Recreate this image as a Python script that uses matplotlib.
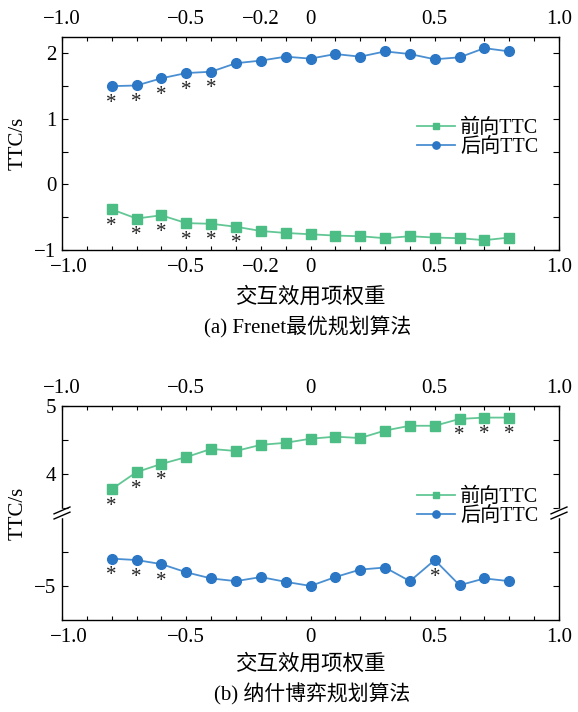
import numpy as np
import matplotlib.pyplot as plt
from matplotlib.ticker import FixedLocator
from matplotlib.transforms import ScaledTranslation

plt.rcParams['font.family'] = ['Liberation Serif', 'Noto Sans CJK SC']
plt.rcParams['axes.unicode_minus'] = True

# weights of the interaction utility term
weights = [-0.8, -0.7, -0.6, -0.5, -0.4, -0.3, -0.2, -0.1, 0.0,
           0.1, 0.2, 0.3, 0.4, 0.5, 0.6, 0.7, 0.8]

# (a) Frenet
frenet_front = [-0.38, -0.52, -0.47, -0.59, -0.60, -0.645, -0.71, -0.74, -0.76,
                -0.78, -0.79, -0.82, -0.79, -0.81, -0.82, -0.85, -0.81]
frenet_rear = [1.50, 1.51, 1.62, 1.70, 1.72, 1.85, 1.89, 1.95, 1.92,
               1.99, 1.95, 2.03, 1.99, 1.91, 1.94, 2.08, 2.03]
frenet_front_sig = [-0.8, -0.7, -0.6, -0.5, -0.4, -0.3]
frenet_rear_sig = [-0.8, -0.7, -0.6, -0.5, -0.4]

# (b) Nash game
nash_front = [3.78, 4.03, 4.15, 4.25, 4.37, 4.34, 4.43, 4.46, 4.52,
              4.55, 4.53, 4.64, 4.71, 4.71, 4.81, 4.83, 4.83]
nash_rear = [-4.60, -4.62, -4.68, -4.80, -4.89, -4.93, -4.87, -4.94, -5.00,
             -4.87, -4.76, -4.73, -4.93, -4.62, -4.99, -4.89, -4.93]
nash_front_sig = [-0.8, -0.7, -0.6, 0.6, 0.7, 0.8]
nash_rear_sig = [-0.8, -0.7, -0.6, 0.5]

green = '#4dbd86'
blue = '#2b77c5'
green_line = '#62c795'
blue_line = '#4a8fd2'

fig = plt.figure(figsize=(5.78, 7.12), dpi=100)
ax1 = fig.add_axes([62/578, 1-250/712, 497/578, 213/712])
ax2 = fig.add_axes([62/578, 1-620/712, 497/578, 214/712])


def style_x(ax, labels):
    ax.set_xlim(-1.0, 1.0)
    ax.xaxis.set_major_locator(FixedLocator(labels))
    ax.set_xticklabels(['0' if v == 0 else f'{v:.1f}'.replace('-', '\u2212') for v in labels])
    ax.xaxis.set_minor_locator(FixedLocator([round(v * 0.1, 1) for v in range(-9, 10)]))
    ax.tick_params(axis='x', which='both', direction='in', top=True, labeltop=True,
                   length=3, width=0.8, labelsize=15, pad=5.5)
    ax.tick_params(axis='y', which='both', direction='in', right=True,
                   length=4, width=0.8, labelsize=15, pad=4)
    for s in ax.spines.values():
        s.set_linewidth(1.0)
    # nudge the bottom-left "-1.0" away from the y tick label
    lab = ax.xaxis.get_majorticklabels()[0]
    lab.set_transform(lab.get_transform() + ScaledTranslation(7/100, 0, fig.dpi_scale_trans))


def stars(ax, xs, ys, sig):
    for x, y in zip(xs, ys):
        if x in sig:
            ax.annotate('*', xy=(x, y), xytext=(0, -17), textcoords='offset pixels',
                        ha='center', va='center', fontsize=15, color='#222222')


# ---- (a)
ax1.plot(weights, frenet_front, color=green_line, lw=1.3, marker='s', ms=6.5,
         mfc=green, mec=green, label='前向TTC')
ax1.plot(weights, frenet_rear, color=blue_line, lw=1.3, marker='o', ms=7,
         mfc=blue, mec=blue, label='后向TTC')
stars(ax1, weights, frenet_front, frenet_front_sig)
stars(ax1, weights, frenet_rear, frenet_rear_sig)
ax1.set_ylim(-1.0, 2.25)
ax1.yaxis.set_major_locator(FixedLocator([-1, 0, 1, 2]))
ax1.set_yticklabels(['\u22121', '0', '1', '2'])
ax1.yaxis.set_minor_locator(FixedLocator([-0.5, 0.5, 1.5]))
style_x(ax1, [-1.0, -0.5, -0.2, 0.0, 0.5, 1.0])
ax1.set_ylabel('TTC/s', fontsize=15, labelpad=5)
ax1.legend(loc='center left', bbox_to_anchor=(0.714, 0.528), frameon=False,
           fontsize=14.5, handlelength=1.9, handletextpad=0.25, labelspacing=0.0,
           borderpad=0, borderaxespad=0, markerscale=0.75)
fig.text(310/578, 1-297/712, '交互效用项权重', ha='center', va='center', fontsize=15.5)
fig.text(308/578, 1-327/712, '(a) Frenet最优规划算法', ha='center', va='center', fontsize=15)

# ---- (b) broken y axis through a function scale
lo_min, lo_max = -5.5, -3.93
hi_min, hi_max = 3.43, 5.0
span = lo_max - lo_min


def fwd(y):
    y = np.asarray(y, dtype=float)
    return np.where(y < 0, y - lo_min, y - hi_min + span)


def inv(u):
    u = np.asarray(u, dtype=float)
    return np.where(u < span, u + lo_min, u - span + hi_min)


ax2.set_yscale('function', functions=(fwd, inv))
ax2.plot(weights, nash_front, color=green_line, lw=1.3, marker='s', ms=6.5,
         mfc=green, mec=green, label='前向TTC')
ax2.plot(weights, nash_rear, color=blue_line, lw=1.3, marker='o', ms=7,
         mfc=blue, mec=blue, label='后向TTC')
stars(ax2, weights, nash_front, nash_front_sig)
stars(ax2, weights, nash_rear, nash_rear_sig)
ax2.set_ylim(lo_min, hi_max)
ax2.yaxis.set_major_locator(FixedLocator([-5, 4, 5]))
ax2.set_yticklabels(['\u22125', '4', '5'])
ax2.yaxis.set_minor_locator(FixedLocator([-4.5, 3.5, 4.5]))
style_x(ax2, [-1.0, -0.5, 0.0, 0.5, 1.0])
ax2.set_ylabel('TTC/s', fontsize=15, labelpad=5)
ax2.legend(loc='center left', bbox_to_anchor=(0.714, 0.530), frameon=False,
           fontsize=14.5, handlelength=1.9, handletextpad=0.25, labelspacing=0.0,
           borderpad=0, borderaxespad=0, markerscale=0.75)

# break marks on both spines
for xa in (0.0, 1.0):
    ax2.plot([xa, xa], [0.488, 0.512], transform=ax2.transAxes, color='white',
             lw=2.5, clip_on=False, zorder=5)
    for dy in (-0.012, 0.012):
        ax2.plot([xa - 0.016, xa + 0.016], [0.5 + dy - 0.016, 0.5 + dy + 0.016],
                 transform=ax2.transAxes, color='black', lw=1.0,
                 clip_on=False, zorder=6)

fig.text(310/578, 1-664/712, '交互效用项权重', ha='center', va='center', fontsize=15.5)
fig.text(312/578, 1-694/712, '(b) 纳什博弈规划算法', ha='center', va='center', fontsize=15)

fig.savefig('out.png', dpi=100)
